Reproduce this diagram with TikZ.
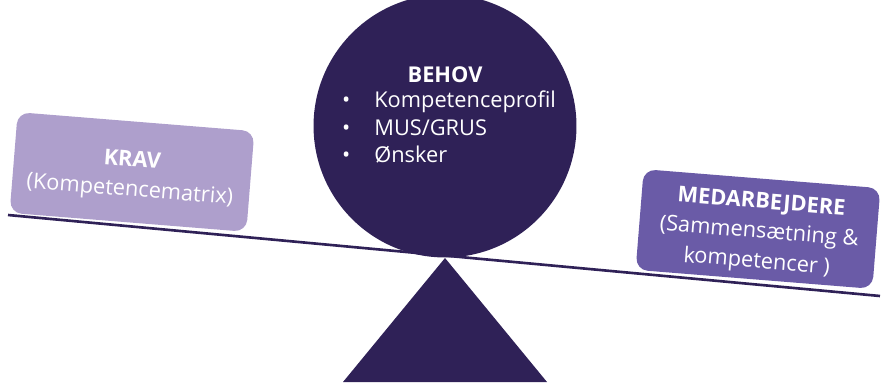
\documentclass[tikz,border=0pt]{standalone}
\usepackage{fontspec}
\setmainfont{Open Sans}
\definecolor{natblaa}{HTML}{2F2157}
\definecolor{lyslilla}{HTML}{AE9FCC}
\definecolor{lilla}{HTML}{6A5BA7}
\tikzset{
  vaegt/.style={rounded corners=0.24cm, minimum width=4.75cm, minimum height=2.02cm, rotate=-4.6},
  tekst/.style={text=white, font=\fontsize{12.4}{17}\selectfont, align=center},
}

\begin{document}
\begin{tikzpicture}[x=0.02cm, y=-0.02cm]
\useasboundingbox (0,0) rectangle (884,382);

% foden
\draw [fill=natblaa, draw=none] (445,258) -- (547,382) -- (343,382) -- cycle;

% kuglen
\node [circle, fill=natblaa, minimum size=5.26cm, inner sep=0] (kugle) at (445,126) {};

% bjaelken
\coordinate (venstre) at (8,215);
\coordinate (hoejre) at (880,296);
\draw [natblaa, line width=1.5pt] (venstre) -- (hoejre);

% skaalene
\node [vaegt, fill=lyslilla] (krav) at (132,172) {};
\node [vaegt, fill=lilla] (medarb) at (758,229) {};

\node [tekst, rotate=-4.6] (kravtxt) at (131,176) {\textbf{KRAV}\\(Kompetencematrix)};
\node [tekst, rotate=-4.6] (medarbtxt) at (759,233) {\textbf{MEDARBEJDERE}\\(Sammensætning \&\\kompetencer )};

\node [tekst, anchor=north] (behov) at (445,60) {\textbf{BEHOV}};
\node [tekst, align=left, anchor=north west] (liste) at (336,85)
  {\textbullet\hspace{1.1em}Kompetenceprofil\\[-1.5pt]\textbullet\hspace{1.1em}MUS/GRUS\\[-1.5pt]\textbullet\hspace{1.1em}Ønsker};

\end{tikzpicture}
\end{document}
